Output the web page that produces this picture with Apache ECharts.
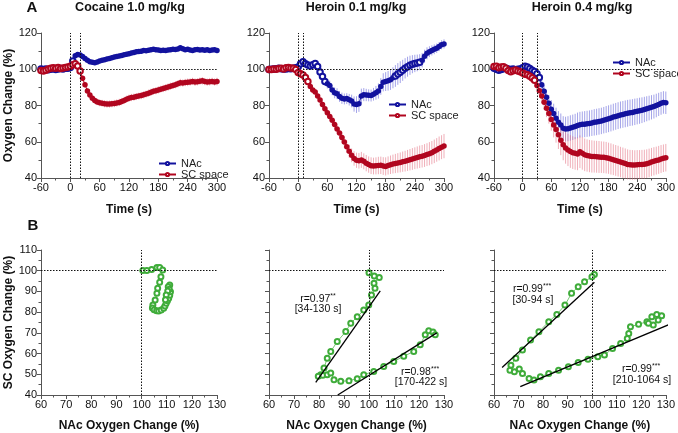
<!DOCTYPE html>
<html>
<head>
<meta charset="utf-8">
<script src="https://cdn.jsdelivr.net/npm/echarts@6/dist/echarts.min.js"></script>
<style>
  html, body { margin: 0; padding: 0; background: #fff; }
  #chart { width: 678px; height: 433px; }
</style>
</head>
<body>
<div id="chart"></div>
<script>
// sample times (s)
var times = [-60,-55,-50,-45,-40,-35,-30,-25,-20,-15,-10,-5,
  0,5,10,15,20,25,30,35,40,45,50,
  55,60,65,70,75,80,85,90,95,100,
  105,110,115,120,125,130,135,140,145,150,
  155,160,165,170,175,180,185,190,195,200,
  205,210,215,220,225,230,235,240,245,250,
  255,260,265,270,275,280,285,290,295,300];

// Cocaine 1.0 mg/kg
var cocNac = [100.2,99.8,100.1,99.7,100.0,100.3,99.9,100.2,100.4,100.1,100.5,100.6,
  101.0,104.5,107.5,108.2,107.8,107.0,106.0,105.0,104.2,103.8,103.6,
  104.0,104.5,104.9,105.3,105.7,106.0,106.3,106.7,107.0,107.3,
  107.6,108.0,108.3,108.6,108.9,109.2,109.6,109.8,110.0,110.3,
  110.2,110.5,110.8,111.0,110.7,110.6,110.4,110.5,110.3,110.6,
  110.8,111.0,110.9,111.2,111.8,111.3,110.8,111.0,110.6,110.4,
  110.8,110.9,110.6,110.8,110.5,110.7,110.4,110.6,110.8,110.4];
var cocNacErr = [0.6,0.5,0.6,0.5,0.6,0.5,0.6,0.5,0.6,0.5,0.6,0.7,
  1.0,1.5,1.5,1.2,1.0,1.0,1.0,1.0,1.0,1.0,1.0,
  1.0,1.1,1.0,1.1,1.2,1.1,1.0,1.2,1.1,1.0,
  1.2,1.1,1.0,1.2,1.1,1.3,1.2,1.1,1.2,1.3,
  1.2,1.1,1.3,1.2,1.4,1.2,1.1,1.3,1.2,1.2,
  1.3,1.2,1.1,1.4,1.6,1.3,1.2,1.3,1.2,1.1,
  1.2,1.3,1.2,1.1,1.2,1.3,1.2,1.1,1.3,1.2];
var cocSc = [99.3,99.0,99.5,100.2,100.5,100.8,100.6,100.9,100.4,100.7,101.0,101.2,
  101.6,102.5,103.0,101.8,99.0,95.0,91.5,88.0,85.8,84.0,82.8,
  82.0,81.5,81.2,81.0,80.8,80.8,80.9,81.1,81.4,81.7,
  82.2,82.8,83.5,84.0,84.4,84.6,84.9,85.2,85.5,85.9,
  86.3,86.8,87.3,87.8,88.2,88.6,89.0,89.4,89.8,90.2,
  90.6,91.0,91.5,92.0,92.6,92.4,92.7,92.8,93.0,93.3,
  92.9,93.1,93.4,93.6,93.2,92.9,93.1,93.3,93.0,93.2];
var cocScErr = [0.8,0.8,0.7,0.8,0.9,0.7,0.8,0.8,0.9,0.8,0.8,0.9,
  1.0,1.2,1.3,1.4,1.5,1.6,1.6,1.7,1.7,1.8,1.8,
  1.8,1.9,1.9,2.0,2.0,2.0,1.9,2.0,2.0,2.0,
  2.0,2.0,1.9,2.0,2.0,2.0,1.9,1.9,2.0,2.0,
  1.9,2.0,2.0,1.9,2.0,2.0,1.9,2.0,2.0,2.0,
  2.0,1.9,2.0,2.0,2.1,2.0,2.0,2.1,2.0,2.0,
  2.1,2.0,2.0,2.1,2.0,2.0,2.1,2.0,2.0,2.1];

// Heroin 0.1 mg/kg
var h01Nac = [99.8,100.0,100.2,100.3,100.5,100.3,100.1,100.2,100.4,100.3,100.6,100.8,
  101.2,103.0,104.2,103.0,102.3,101.8,102.5,103.2,101.5,98.5,96.0,
  93.3,92.0,91.0,88.5,87.0,86.5,85.0,84.0,83.6,83.8,
  83.2,82.5,80.8,80.5,81.0,85.3,86.0,85.8,85.6,85.5,
  86.2,87.0,88.0,90.5,92.8,93.2,93.6,94.2,95.3,96.3,
  97.4,98.4,99.4,100.5,101.4,102.2,102.8,103.2,103.5,103.9,
  105.0,107.2,108.8,109.7,110.4,111.0,111.6,112.5,113.5,114.0];
var h01NacErr = [0.6,0.6,0.5,0.6,0.7,0.6,0.6,0.7,0.7,0.8,0.8,0.9,
  1.0,1.3,1.6,1.5,1.4,1.5,1.6,1.8,1.8,2.0,2.2,
  2.4,2.6,2.7,2.8,3.0,3.0,3.0,3.1,3.0,3.0,
  3.2,3.5,4.2,4.6,4.5,4.0,3.6,3.4,3.3,3.3,
  3.5,3.8,4.2,4.6,5.0,5.2,5.4,5.6,5.8,6.0,
  6.0,6.0,5.8,5.6,5.5,5.3,5.0,4.8,4.6,4.4,
  4.0,3.6,3.3,3.0,2.8,2.7,2.6,2.5,2.5,2.5];
var h01Sc = [99.8,99.9,100.1,100.0,100.4,100.6,100.2,100.8,101.0,100.7,100.5,99.8,
  98.2,97.5,96.8,95.5,93.2,90.5,88.5,87.5,85.3,83.0,80.5,
  78.2,76.0,74.0,71.8,69.5,67.0,64.8,62.3,59.8,57.2,
  54.8,52.5,50.8,49.8,49.5,50.0,49.2,48.2,47.4,46.8,
  46.6,46.7,46.9,47.0,46.6,46.4,46.9,47.3,47.7,48.0,
  48.3,48.6,49.0,49.3,49.7,50.1,50.5,50.9,51.3,51.7,
  52.0,52.4,52.9,53.4,54.0,54.7,55.5,56.3,57.0,57.6];
var h01ScErr = [0.6,0.6,0.7,0.6,0.7,0.8,0.7,0.8,0.8,0.8,0.9,0.9,
  1.0,1.1,1.2,1.3,1.4,1.5,1.6,1.6,1.7,1.8,1.9,
  2.0,2.1,2.2,2.4,2.5,2.6,2.8,3.0,3.2,3.4,
  3.6,3.8,4.0,4.2,4.3,4.4,4.4,4.5,4.5,4.6,
  4.6,4.7,4.8,4.8,4.9,5.0,5.0,5.1,5.2,5.3,
  5.4,5.5,5.6,5.7,5.8,5.9,6.0,6.0,6.1,6.2,
  6.2,6.3,6.3,6.4,6.4,6.5,6.5,6.6,6.6,6.7];

// Heroin 0.4 mg/kg
var h04Nac = [100.5,100.0,99.4,99.8,100.3,100.6,100.2,99.9,100.1,99.6,100.0,100.2,
  100.8,101.6,101.2,100.4,99.5,98.8,97.5,95.4,91.5,87.8,84.5,
  81.3,78.0,75.6,73.0,70.8,69.2,67.5,67.0,67.2,67.6,
  68.0,68.4,69.0,69.4,69.6,69.7,69.9,70.1,70.4,70.7,
  70.9,71.2,71.5,71.9,72.3,72.7,73.1,73.6,74.0,74.4,
  74.8,75.1,75.4,75.7,76.0,76.2,76.5,76.8,77.1,77.4,
  77.8,78.2,78.6,79.0,79.4,80.0,80.6,81.2,81.7,81.5];
var h04NacErr = [0.8,0.8,0.9,0.8,0.8,0.9,0.9,1.0,0.9,1.0,1.0,1.0,
  1.1,1.2,1.3,1.4,1.6,1.9,2.2,2.6,3.0,3.5,4.0,
  4.5,5.0,5.4,5.8,6.1,6.4,6.6,6.8,6.9,7.0,
  7.0,7.0,7.1,7.1,7.1,7.2,7.2,7.2,7.2,7.3,
  7.3,7.3,7.3,7.3,7.4,7.4,7.4,7.4,7.4,7.4,
  7.4,7.4,7.4,7.4,7.3,7.3,7.3,7.2,7.2,7.1,
  7.0,6.9,6.8,6.7,6.6,6.5,6.4,6.3,6.2,6.2];
var h04Sc = [101.5,101.6,100.8,101.2,101.4,100.5,99.3,98.6,99.2,99.6,99.1,98.6,
  98.0,97.2,97.0,96.2,95.2,94.0,91.0,88.2,85.2,81.8,78.5,
  75.6,72.3,69.2,66.8,63.8,60.8,58.3,56.6,55.5,54.6,
  54.0,53.6,53.3,54.5,53.6,52.8,52.4,52.1,51.9,51.8,
  51.7,51.6,51.5,51.4,51.2,50.9,50.5,50.1,49.7,49.3,
  48.8,48.4,48.0,47.5,47.3,47.2,47.2,47.3,47.4,47.5,
  47.6,47.9,48.3,48.8,49.2,49.6,50.0,50.5,50.9,51.2];
var h04ScErr = [1.0,1.0,1.1,1.0,1.1,1.0,1.1,1.2,1.1,1.2,1.2,1.2,
  1.3,1.4,1.5,1.6,1.8,2.1,2.5,3.0,3.6,4.2,4.9,
  5.6,6.2,6.8,7.3,7.8,8.2,8.5,8.7,8.9,9.0,
  9.0,9.0,9.0,9.0,9.0,9.0,8.9,8.9,8.9,8.8,
  8.8,8.8,8.7,8.7,8.7,8.6,8.6,8.5,8.5,8.5,
  8.4,8.4,8.3,8.3,8.2,8.2,8.1,8.1,8.0,8.0,
  8.0,7.9,7.9,7.8,7.8,7.7,7.7,7.7,7.6,7.6];

// time windows drawn with filled symbols (significant vs baseline)
var cocNacSig = [[10, 300]];
var cocScSig = [[25, 300]];
var h01NacSig = [[60, 195], [255, 300]];
var h01ScSig = [[25, 300]];
var h04NacSig = [[40, 300]];
var h04ScSig = [[30, 300]];

// injection start / end (s)
var cocInj = [0, 20];
var h01Inj = [0, 10];
var h04Inj = [0, 30];

// panel B: SC vs NAc
var b1X = [100.5,102.1,104.0,106.1,107.2,108.4,107.7,107.2,106.4,106.1,105.4,104.5,104.3,105.0,106.0,
  106.8,107.8,108.8,109.3,109.8,110.3,110.8,111.2,111.5,111.2,110.6,111.0,110.4,109.8,109.5];
var b1Y = [100.1,100.1,100.6,101.5,101.6,100.3,97.1,94.4,91.5,89.1,85.9,83.5,82.0,81.1,80.7,
  80.6,81.0,81.9,83.0,84.3,85.5,86.7,88.2,89.9,93.1,92.3,91.0,90.2,88.3,86.0];
var b2X = [100.0,102.1,104.1,102.0,102.4,101.0,99.9,97.9,95.3,92.7,90.7,87.3,84.7,83.3,82.0,80.7,79.7,81.5,
  83.3,84.7,86.0,88.7,92.0,95.3,97.9,101.9,105.9,109.9,113.9,117.9,120.5,122.5,123.9,125.6,126.5];
var b2Y = [99.0,97.4,96.7,93.9,91.5,88.3,83.5,81.0,77.8,74.6,70.6,65.8,61.0,57.8,53.0,49.8,49.0,49.5,
  49.8,50.6,47.4,46.6,46.9,47.9,49.8,51.4,53.8,56.2,58.7,61.0,64.3,69.1,71.0,70.4,69.1];
var b3X = [100.9,99.9,96.9,94.3,91.6,88.9,85.6,82.3,78.3,74.9,71.6,68.9,66.9,66.5,68.3,70.3,71.6,74.3,76.3,78.9,
  82.3,86.3,90.3,94.3,98.3,102.3,105.0,108.3,111.6,114.3,114.9,115.6,118.9,122.3,124.3,126.3,128.3,126.9,124.9,122.9];
var b3Y = [98.2,97.1,94.7,92.3,89.1,83.4,78.9,75.4,70.5,66.5,61.7,57.7,54.4,52.0,51.2,52.5,50.4,48.0,47.2,48.8,
  50.4,52.0,53.6,55.7,57.3,58.5,59.3,62.5,64.9,67.3,69.7,73.0,74.1,75.4,77.8,78.9,78.3,76.2,73.8,74.6];

// regression line end points
var b2Fit1X = [78.7, 104.5], b2Fit1Y = [46.1, 90.3];
var b2Fit2X = [87.5, 127.1], b2Fit2Y = [40.0, 70.0];
var b3Fit1X = [63.3, 100.9], b3Fit1Y = [53.3, 94.4];
var b3Fit2X = [70.7, 133.6], b3Fit2Y = [44.0, 75.1];

var FONT = "'Liberation Sans', Arial, Helvetica, sans-serif";
var BLUE = '#12129e', RED = '#b1061f', GREEN = '#3fac3a';
var BLUE_ERR = 'rgba(90,90,215,0.55)', RED_ERR = 'rgba(225,95,115,0.5)';

var myChart = echarts.init(document.getElementById('chart'));

function inWin(t, wins) {
  for (var k = 0; k < wins.length; k++) {
    if (t >= wins[k][0] && t <= wins[k][1]) return true;
  }
  return false;
}

function timeLine(name, gi, vals, sig, color, extra) {
  var data = times.map(function (t, i) {
    return { value: [t, vals[i]], symbol: inWin(t, sig) ? 'circle' : 'emptyCircle' };
  });
  var s = {
    type: 'line', name: name, xAxisIndex: gi, yAxisIndex: gi, data: data,
    symbol: 'emptyCircle', symbolSize: 5.5, showAllSymbol: true,
    color: color, lineStyle: { width: 1, color: color },
    itemStyle: { color: color, borderWidth: 1 }, z: 3, animation: false
  };
  if (extra) s.markLine = extra;
  return s;
}

function errBars(gi, vals, errs, color) {
  return {
    type: 'custom', xAxisIndex: gi, yAxisIndex: gi, silent: true, z: 1, animation: false,
    data: times.map(function (t, i) { return [t, vals[i], errs[i]]; }),
    renderItem: function (params, api) {
      var t = api.value(0), v = api.value(1), e = api.value(2);
      var a = api.coord([t, v - e]), b = api.coord([t, v + e]);
      return { type: 'line', shape: { x1: a[0], y1: a[1], x2: b[0], y2: b[1] },
        style: { stroke: color, lineWidth: 1 } };
    }
  };
}

function injLines(inj) {
  return {
    silent: true, symbol: ['none', 'none'], label: { show: false },
    lineStyle: { type: [1.5, 1.5], color: '#111', width: 1 },
    data: [
      { xAxis: inj[0] },
      { xAxis: inj[1] },
      [{ coord: [inj[1], 100] }, { coord: [300, 100] }]
    ]
  };
}

var crossLines = {
  silent: true, symbol: ['none', 'none'], label: { show: false },
  lineStyle: { type: [1.5, 1.5], color: '#111', width: 1 },
  data: [{ xAxis: 100 }, { yAxis: 100 }]
};

function pairs(xs, ys) {
  return xs.map(function (x, i) { return [x, ys[i]]; });
}

function scatterLine(gi, xs, ys) {
  return {
    type: 'line', xAxisIndex: gi, yAxisIndex: gi, data: pairs(xs, ys),
    symbol: 'emptyCircle', symbolSize: 5, showAllSymbol: true,
    lineStyle: { width: 0.7, color: GREEN }, itemStyle: { color: GREEN, borderWidth: 0.9 },
    z: 3, animation: false, markLine: crossLines
  };
}

function fitLine(gi, xs, ys) {
  return {
    type: 'line', xAxisIndex: gi, yAxisIndex: gi, data: pairs(xs, ys),
    symbol: 'none', clip: false, lineStyle: { width: 1.3, color: '#000' }, z: 4, animation: false
  };
}

var axisCol = '#555';
function axisBase(min, max, interval, showLabel, name, nameGap) {
  return {
    type: 'value', min: min, max: max, interval: interval,
    name: name || '', nameLocation: 'middle', nameGap: nameGap || 0,
    nameTextStyle: { fontSize: 12, fontWeight: 'bold', color: '#111', fontFamily: FONT },
    axisLine: { show: true, onZero: false, lineStyle: { color: axisCol, width: 1 } },
    axisTick: { show: true, inside: false, length: 4, lineStyle: { color: axisCol } },
    minorTick: { show: true, splitNumber: 2, length: 2.5, lineStyle: { color: axisCol } },
    splitLine: { show: false },
    axisLabel: { show: showLabel, fontSize: 11, color: '#111', fontFamily: FONT, margin: 4 }
  };
}

var grids = [
  { left: 41, top: 33, width: 176, height: 145 },
  { left: 269, top: 33, width: 175, height: 145 },
  { left: 494, top: 33, width: 175, height: 145 },
  { left: 41, top: 250, width: 176, height: 146 },
  { left: 269, top: 250, width: 175, height: 146 },
  { left: 494, top: 250, width: 175, height: 146 }
];

var xAxes = [], yAxes = [];
for (var g = 0; g < 3; g++) {
  var xa = axisBase(-60, 300, 60, true, 'Time (s)', 26);
  xa.gridIndex = g;
  xAxes.push(xa);
  var ya = axisBase(40, 120, 20, true, g === 0 ? 'Oxygen Change (%)' : '', 24);
  ya.gridIndex = g;
  yAxes.push(ya);
}
for (var g2 = 3; g2 < 6; g2++) {
  var xb = axisBase(60, 130, 10, true, 'NAc Oxygen Change (%)', 25);
  xb.gridIndex = g2;
  xAxes.push(xb);
  var yb = axisBase(40, 110, 10, g2 === 3, g2 === 3 ? 'SC Oxygen Change (%)' : '', 24);
  yb.gridIndex = g2;
  yAxes.push(yb);
}

function legendAt(left, top) {
  return {
    data: ['NAc', 'SC space'], orient: 'vertical', left: left, top: top,
    itemWidth: 17, itemHeight: 4, itemGap: 0, selectedMode: false,
    textStyle: { fontSize: 11, lineHeight: 11, color: '#222', fontFamily: FONT }
  };
}

function txt(x, y, text, size, bold, align) {
  return {
    type: 'text', x: x, y: y, silent: true,
    style: {
      text: text, fill: '#111', align: align || 'center', verticalAlign: 'middle',
      font: (bold ? 'bold ' : '') + size + 'px ' + FONT,
      rich: { s: { fontSize: 7, padding: [0, 0, 5, 0], fill: '#111', fontFamily: FONT } }
    }
  };
}

var option = {
  backgroundColor: '#fff',
  animation: false,
  grid: grids,
  xAxis: xAxes,
  yAxis: yAxes,
  legend: [legendAt(153, 153), legendAt(383, 94), legendAt(607, 52)],
  graphic: [
    txt(32, 8, 'A', 15, true),
    txt(130, 8, 'Cocaine 1.0 mg/kg', 12.5, true),
    txt(356, 8, 'Heroin 0.1 mg/kg', 12.5, true),
    txt(582, 8, 'Heroin 0.4 mg/kg', 12.5, true),
    txt(33, 226, 'B', 15, true),
    txt(318, 299, 'r=0.97{s|**}', 10.5, false),
    txt(318, 309, '[34-130 s]', 10.5, false),
    txt(420, 372, 'r=0.98{s|***}', 10.5, false),
    txt(421, 382, '[170-422 s]', 10.5, false),
    txt(532, 289, 'r=0.99{s|***}', 10.5, false),
    txt(533, 300, '[30-94 s]', 10.5, false),
    txt(641, 369, 'r=0.99{s|***}', 10.5, false),
    txt(642, 380, '[210-1064 s]', 10.5, false)
  ],
  series: [
    errBars(0, cocNac, cocNacErr, BLUE_ERR),
    errBars(0, cocSc, cocScErr, RED_ERR),
    timeLine('NAc', 0, cocNac, cocNacSig, BLUE, injLines(cocInj)),
    timeLine('SC space', 0, cocSc, cocScSig, RED),

    errBars(1, h01Nac, h01NacErr, BLUE_ERR),
    errBars(1, h01Sc, h01ScErr, RED_ERR),
    timeLine('NAc', 1, h01Nac, h01NacSig, BLUE, injLines(h01Inj)),
    timeLine('SC space', 1, h01Sc, h01ScSig, RED),

    errBars(2, h04Nac, h04NacErr, BLUE_ERR),
    errBars(2, h04Sc, h04ScErr, RED_ERR),
    timeLine('NAc', 2, h04Nac, h04NacSig, BLUE, injLines(h04Inj)),
    timeLine('SC space', 2, h04Sc, h04ScSig, RED),

    scatterLine(3, b1X, b1Y),
    scatterLine(4, b2X, b2Y),
    fitLine(4, b2Fit1X, b2Fit1Y),
    fitLine(4, b2Fit2X, b2Fit2Y),
    scatterLine(5, b3X, b3Y),
    fitLine(5, b3Fit1X, b3Fit1Y),
    fitLine(5, b3Fit2X, b3Fit2Y)
  ]
};

myChart.setOption(option);
</script>
</body>
</html>
